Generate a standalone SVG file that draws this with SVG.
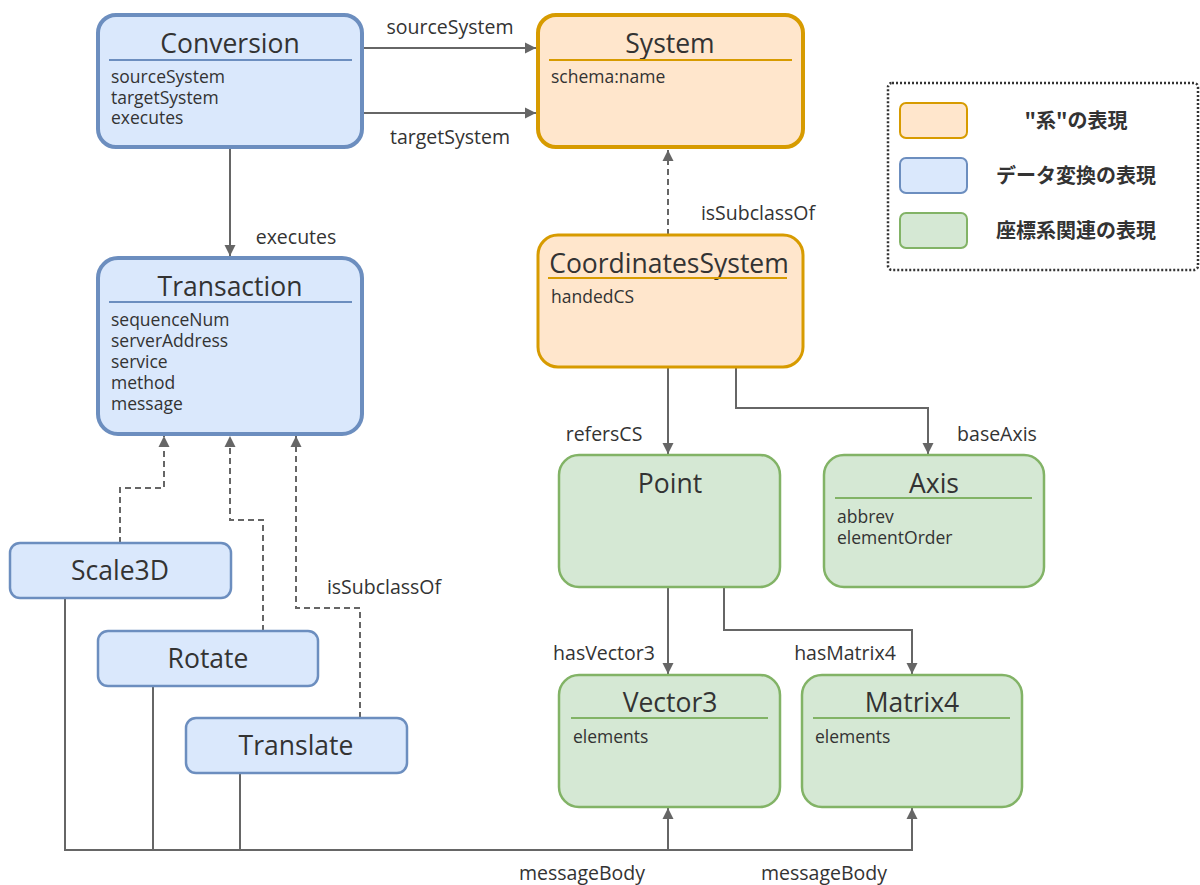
<svg xmlns="http://www.w3.org/2000/svg" width="1200" height="885" viewBox="0 0 1200 885">
  <style>
    text { font-family: "Open Sans", "Noto Sans", "Noto Sans CJK JP", sans-serif; fill: #333333; }
    .title { font-size: 26.5px; text-anchor: middle; }
    .attr { font-size: 17.5px; }
    .elabel { font-size: 19.5px; text-anchor: middle; }
    .legend { font-size: 20px; font-weight: bold; text-anchor: middle; font-family: "Noto Sans CJK JP", "Noto Sans", sans-serif; }
    .blue { fill: #dae8fc; stroke: #6c8ebf; }
    .orange { fill: #ffe6cc; stroke: #d79b00; }
    .green { fill: #d5e8d4; stroke: #82b366; }
    .thick { stroke-width: 4; }
    .mid { stroke-width: 3; }
    .thin { stroke-width: 2.5; }
    .sep-blue { stroke: #6c8ebf; stroke-width: 2; }
    .sep-orange { stroke: #d79b00; stroke-width: 2; }
    .sep-green { stroke: #82b366; stroke-width: 2; }
    .edge { fill: none; stroke: #666666; stroke-width: 2; }
    .dashed { stroke-dasharray: 6 4; }
  </style>
  <defs>
    <marker id="arrow" markerUnits="userSpaceOnUse" markerWidth="12" markerHeight="12" viewBox="0 0 12 12" refX="11" refY="6" orient="auto">
      <path d="M0,0.5 L11,6 L0,11.5 Z" fill="#666666"/>
    </marker>
  </defs>

  <!-- connectors -->
  <g id="connectors">
    <path class="edge" d="M362,48 H536" marker-end="url(#arrow)"/>
    <path class="edge" d="M362,113 H536" marker-end="url(#arrow)"/>
    <path class="edge" d="M230,148 V256" marker-end="url(#arrow)"/>
    <path class="edge dashed" d="M668,235 V150" marker-end="url(#arrow)"/>
    <path class="edge" d="M668,367 V454" marker-end="url(#arrow)"/>
    <path class="edge" d="M736,367 V408 H928 V454" marker-end="url(#arrow)"/>
    <path class="edge" d="M668,587 V674" marker-end="url(#arrow)"/>
    <path class="edge" d="M724,587 V630 H912 V674" marker-end="url(#arrow)"/>
    <path class="edge dashed" d="M120,543 V488 H164 V436" marker-end="url(#arrow)"/>
    <path class="edge dashed" d="M263,631 V520 H230 V436" marker-end="url(#arrow)"/>
    <path class="edge dashed" d="M360,718 V608 H296 V436" marker-end="url(#arrow)"/>
    <path class="edge" d="M65,598 V850 H668 V808" marker-end="url(#arrow)"/>
    <path class="edge" d="M153,686 V850"/>
    <path class="edge" d="M240,773 V850"/>
    <path class="edge" d="M668,850 H912 V808" marker-end="url(#arrow)"/>

    <text class="elabel" x="450" y="34">sourceSystem</text>
    <text class="elabel" x="450" y="144">targetSystem</text>
    <text class="elabel" x="296" y="244">executes</text>
    <text class="elabel" x="758" y="220">isSubclassOf</text>
    <text class="elabel" x="604" y="441">refersCS</text>
    <text class="elabel" x="997" y="441">baseAxis</text>
    <text class="elabel" x="604" y="660">hasVector3</text>
    <text class="elabel" x="845" y="660">hasMatrix4</text>
    <text class="elabel" x="384" y="594">isSubclassOf</text>
    <text class="elabel" x="582" y="880">messageBody</text>
    <text class="elabel" x="824" y="880">messageBody</text>
  </g>

  <!-- Conversion -->
  <g id="conversion">
    <rect class="blue thick" x="98" y="15" width="264" height="132" rx="18"/>
    <text class="title" x="230" y="53">Conversion</text>
    <line class="sep-blue" x1="109" y1="60" x2="352" y2="60"/>
    <text class="attr" x="111" y="83">sourceSystem</text>
    <text class="attr" x="111" y="104">targetSystem</text>
    <text class="attr" x="111" y="124">executes</text>
  </g>

  <!-- System -->
  <g id="system">
    <rect class="orange thick" x="538" y="15" width="265" height="132" rx="18"/>
    <text class="title" x="670" y="53">System</text>
    <line class="sep-orange" x1="549" y1="60" x2="792" y2="60"/>
    <text class="attr" x="551" y="83">schema:name</text>
  </g>

  <!-- Transaction -->
  <g id="transaction">
    <rect class="blue thick" x="98" y="258" width="264" height="176" rx="20"/>
    <text class="title" x="230" y="296">Transaction</text>
    <line class="sep-blue" x1="109" y1="302" x2="352" y2="302"/>
    <text class="attr" x="111" y="326">sequenceNum</text>
    <text class="attr" x="111" y="347">serverAddress</text>
    <text class="attr" x="111" y="368">service</text>
    <text class="attr" x="111" y="389">method</text>
    <text class="attr" x="111" y="410">message</text>
  </g>

  <!-- CoordinatesSystem -->
  <g id="coordinates-system">
    <rect class="orange mid" x="538" y="235" width="265" height="132" rx="20"/>
    <text class="title" x="669" y="273">CoordinatesSystem</text>
    <line class="sep-orange" x1="548" y1="278" x2="787" y2="278"/>
    <text class="attr" x="551" y="303">handedCS</text>
  </g>

  <!-- Point -->
  <g id="point">
    <rect class="green thin" x="559" y="455" width="221" height="132" rx="20"/>
    <text class="title" x="670" y="493">Point</text>
  </g>

  <!-- Axis -->
  <g id="axis">
    <rect class="green thin" x="824" y="455" width="220" height="132" rx="20"/>
    <text class="title" x="934" y="493">Axis</text>
    <line class="sep-green" x1="835" y1="498" x2="1032" y2="498"/>
    <text class="attr" x="837" y="523">abbrev</text>
    <text class="attr" x="837" y="544">elementOrder</text>
  </g>

  <!-- Vector3 -->
  <g id="vector3">
    <rect class="green thin" x="559" y="675" width="221" height="132" rx="20"/>
    <text class="title" x="670" y="712">Vector3</text>
    <line class="sep-green" x1="571" y1="718" x2="768" y2="718"/>
    <text class="attr" x="573" y="743">elements</text>
  </g>

  <!-- Matrix4 -->
  <g id="matrix4">
    <rect class="green thin" x="802" y="675" width="220" height="132" rx="20"/>
    <text class="title" x="912" y="712">Matrix4</text>
    <line class="sep-green" x1="813" y1="718" x2="1010" y2="718"/>
    <text class="attr" x="815" y="743">elements</text>
  </g>

  <!-- Transform subclasses -->
  <g id="scale3d">
    <rect class="blue thin" x="10" y="543" width="221" height="55" rx="10"/>
    <text class="title" x="120" y="580">Scale3D</text>
  </g>
  <g id="rotate">
    <rect class="blue thin" x="98" y="631" width="220" height="55" rx="10"/>
    <text class="title" x="208" y="668">Rotate</text>
  </g>
  <g id="translate">
    <rect class="blue thin" x="186" y="718" width="221" height="55" rx="10"/>
    <text class="title" x="296" y="755">Translate</text>
  </g>

  <!-- Legend -->
  <g id="legend">
    <rect x="888" y="83" width="310" height="187" rx="4" fill="none" stroke="#333333" stroke-width="2.5" stroke-dasharray="2 2"/>
    <rect class="orange" stroke-width="2" x="900" y="103" width="67" height="35" rx="6"/>
    <rect class="blue" stroke-width="2" x="900" y="158" width="67" height="35" rx="6"/>
    <rect class="green" stroke-width="2" x="900" y="213" width="67" height="35" rx="6"/>
    <text class="legend" x="1076" y="128">"系"の表現</text>
    <text class="legend" x="1076" y="183">データ変換の表現</text>
    <text class="legend" x="1076" y="238">座標系関連の表現</text>
  </g>
</svg>
